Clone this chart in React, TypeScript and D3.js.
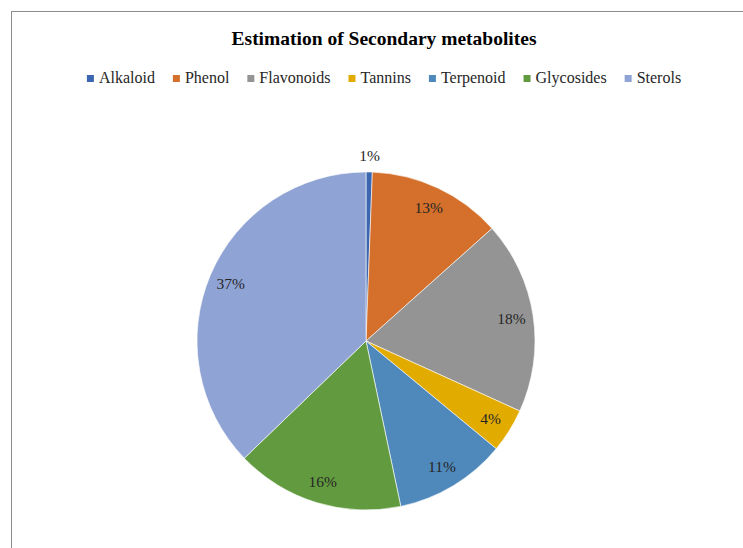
import { useEffect, useRef } from "react";
import * as d3 from "d3";

const WIDTH = 743;
const HEIGHT = 548;
const FONT = "'Liberation Serif', 'Times New Roman', serif";

const categories = ["Alkaloid", "Phenol", "Flavonoids", "Tannins", "Terpenoid", "Glycosides", "Sterols"];
const values = [0.6, 12.8, 18.4, 4.2, 10.7, 16.1, 37.2];
const colors = ["#3C66B1", "#D4702B", "#949494", "#E2AB00", "#4F89BC", "#629B3F", "#8FA3D4"];

const CENTER = { x: 366, y: 341 };
const RADIUS = 169;

export default function App() {
  const svgRef = useRef<SVGSVGElement>(null);

  useEffect(() => {
    const svgElement = svgRef.current;
    if (!svgElement) return;

    const svg = d3.select(svgElement);
    svg.selectAll("*").remove();

    // chart area border (runs off the right and bottom edges)
    svg
      .append("rect")
      .attr("x", 11.5)
      .attr("y", 11.5)
      .attr("width", WIDTH + 20)
      .attr("height", HEIGHT + 20)
      .attr("fill", "#fff")
      .attr("stroke", "#8c8c8c")
      .attr("stroke-width", 1);

    svg
      .append("text")
      .attr("x", 384)
      .attr("y", 45)
      .attr("text-anchor", "middle")
      .attr("font-family", FONT)
      .attr("font-weight", "bold")
      .attr("font-size", 19.5)
      .attr("fill", "#000")
      .text("Estimation of Secondary metabolites");

    // legend, measured then centred
    const legend = svg.append("g");
    let cursor = 0;
    const gap = 18;
    categories.forEach((name, i) => {
      const item = legend.append("g").attr("transform", `translate(${cursor},0)`);
      item
        .append("rect")
        .attr("x", 0)
        .attr("y", -8)
        .attr("width", 7)
        .attr("height", 7)
        .attr("fill", colors[i]);
      const label = item
        .append("text")
        .attr("x", 12)
        .attr("y", 0)
        .attr("font-family", FONT)
        .attr("font-size", 16)
        .attr("fill", "#262626")
        .text(name);
      const w = (label.node() as SVGTextElement).getComputedTextLength();
      cursor += 12 + w + gap;
    });
    const legendWidth = cursor - gap;
    legend.attr("transform", `translate(${384 - legendWidth / 2},83)`);

    const pie = d3
      .pie<number>()
      .sort(null)
      .value((d) => d);
    const arcs = pie(values);
    const total = d3.sum(values);

    const arc = d3.arc<d3.PieArcDatum<number>>().innerRadius(0).outerRadius(RADIUS);
    const labelArc = d3.arc<d3.PieArcDatum<number>>().innerRadius(147).outerRadius(147);
    const outerLabelArc = d3.arc<d3.PieArcDatum<number>>().innerRadius(185).outerRadius(185);

    const chart = svg.append("g").attr("transform", `translate(${CENTER.x},${CENTER.y})`);

    chart
      .selectAll("path")
      .data(arcs)
      .join("path")
      .attr("d", arc)
      .attr("fill", (_, i) => colors[i])
      .attr("stroke", "#fff")
      .attr("stroke-width", 0.6);

    chart
      .selectAll("text")
      .data(arcs)
      .join("text")
      .attr("transform", (d) => {
        const [x, y] = (d.data / total < 0.02 ? outerLabelArc : labelArc).centroid(d);
        return `translate(${x},${y})`;
      })
      .attr("text-anchor", "middle")
      .attr("dy", "0.35em")
      .attr("font-family", FONT)
      .attr("font-size", 15.5)
      .attr("fill", "#262626")
      .text((d) => `${Math.round((d.data / total) * 100)}%`);
  }, []);

  return (
    <svg
      ref={svgRef}
      width={WIDTH}
      height={HEIGHT}
      style={{ position: "absolute", left: 0, top: 0, background: "#fff" }}
    />
  );
}
